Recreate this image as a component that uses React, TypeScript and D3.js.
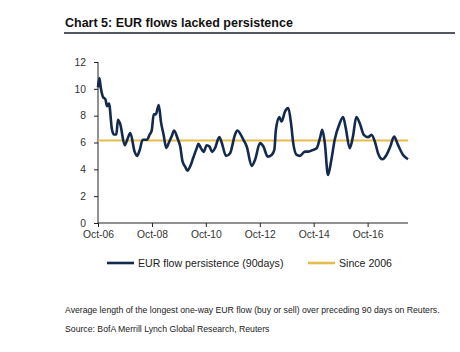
import { useEffect, useRef } from "react";
import * as d3 from "d3";

const dates = [
  "2006-10-01", "2006-10-19", "2006-11-10", "2006-12-07", "2007-01-10", "2007-02-01",
  "2007-02-27", "2007-04-07", "2007-05-01", "2007-06-07", "2007-06-28", "2007-07-28",
  "2007-09-28", "2007-11-07", "2007-12-13", "2008-02-10", "2008-03-13", "2008-04-16",
  "2008-05-28", "2008-07-25", "2008-09-01", "2008-09-28", "2008-10-25", "2008-11-22",
  "2009-01-01", "2009-02-01", "2009-03-07", "2009-04-13", "2009-05-19", "2009-06-28",
  "2009-07-28", "2009-09-13", "2009-10-19", "2009-11-19", "2009-12-25", "2010-01-25",
  "2010-03-01", "2010-04-16", "2010-06-01", "2010-06-22", "2010-07-25", "2010-09-01",
  "2010-10-13", "2010-11-19", "2010-12-25", "2011-02-04", "2011-04-01", "2011-05-04",
  "2011-07-01", "2011-08-25", "2011-11-01", "2011-12-01", "2012-02-22", "2012-04-07",
  "2012-06-13", "2012-07-28", "2012-10-04", "2012-11-19", "2013-01-16", "2013-03-10",
  "2013-04-16", "2013-05-07", "2013-06-22", "2013-07-22", "2013-09-07", "2013-10-22",
  "2013-11-28", "2013-12-28", "2014-02-13", "2014-03-28", "2014-06-04", "2014-07-19",
  "2014-09-25", "2014-11-10", "2014-12-25", "2015-01-25", "2015-03-01", "2015-04-13",
  "2015-05-28", "2015-07-13", "2015-09-19", "2015-11-04", "2015-12-10", "2016-02-01",
  "2016-03-16", "2016-05-01", "2016-06-16", "2016-08-10", "2016-10-07", "2016-11-22",
  "2017-01-07", "2017-02-19", "2017-04-19", "2017-06-13", "2017-08-04", "2017-09-25",
  "2017-11-16", "2018-01-25", "2018-04-01",
];

const persistence = [
  10.1, 10.8, 10.0, 9.4, 9.2, 8.7,
  8.9, 7.0, 6.6, 6.6, 7.7, 7.4,
  5.8, 6.3, 6.7, 5.3, 5.0, 5.4,
  6.2, 6.2, 6.6, 6.9, 8.1, 8.1,
  8.8, 7.5, 6.6, 5.6, 6.0, 6.5,
  6.9, 6.3, 5.7, 4.6, 4.2, 3.9,
  4.2, 4.9, 5.6, 5.9, 5.6, 5.3,
  5.8, 5.7, 5.3, 5.6, 6.4, 6.0,
  5.0, 5.2, 6.6, 6.9, 6.2, 5.7,
  4.25, 4.7, 5.95, 5.7, 4.95, 5.07,
  5.45, 6.94, 7.9, 7.56, 8.3, 8.56,
  7.44, 5.95, 5.07, 5.0, 5.32, 5.32,
  5.45, 5.57, 6.32, 6.94, 5.95, 3.58,
  4.7, 6.2, 7.44, 7.9, 7.07, 5.57,
  6.44, 7.9, 7.44, 6.57, 6.4, 6.57,
  6.07, 5.2, 4.75, 5.07, 5.7, 6.44,
  5.82, 5.07, 4.75,
];

const sinceAverage = 6.15;
const yTicks = [0, 2, 4, 6, 8, 10, 12];
const xTickDates = ["2006-10-01", "2008-10-01", "2010-10-01", "2012-10-01", "2014-10-01", "2016-10-01"];
const legendLabels = ["EUR flow persistence (90days)", "Since 2006"];
const title = "Chart 5: EUR flows lacked persistence";
const notes = [
  "Average length of the longest one-way EUR flow (buy or sell) over preceding 90 days on Reuters.",
  "Source: BofA Merrill Lynch Global Research, Reuters",
];

const NAVY = "#132a4e";
const GOLD = "#e5bb4c";

const App = () => {
  const ref = useRef(null);

  useEffect(() => {
    const width = 460;
    const height = 352;
    const margin = { top: 62, right: 52, bottom: 129, left: 98 };
    const font = "Liberation Sans, Arial, sans-serif";

    const svg = d3.select(ref.current);
    svg.selectAll("*").remove();

    const parse = d3.timeParse("%Y-%m-%d");
    const data = dates.map((d, i) => ({ date: parse(d), value: persistence[i] }));

    const x = d3
      .scaleTime()
      .domain([parse("2006-10-01"), parse("2018-04-01")])
      .range([margin.left, width - margin.right]);
    const y = d3
      .scaleLinear()
      .domain([0, 12])
      .range([height - margin.bottom, margin.top]);

    // title + rule
    svg
      .append("text")
      .attr("x", 65)
      .attr("y", 27)
      .attr("font-family", font)
      .attr("font-size", 12.5)
      .attr("font-weight", "bold")
      .attr("fill", "#111")
      .text(title);
    svg
      .append("line")
      .attr("x1", 64)
      .attr("x2", 455)
      .attr("y1", 33)
      .attr("y2", 33)
      .attr("stroke", "#1a1f2e")
      .attr("stroke-width", 1.5);

    // axes
    const yAxis = svg
      .append("g")
      .attr("transform", `translate(${margin.left},0)`)
      .call(d3.axisLeft(y).tickValues(yTicks).tickSize(4).tickPadding(8));
    const xAxis = svg
      .append("g")
      .attr("transform", `translate(0,${height - margin.bottom})`)
      .call(
        d3
          .axisBottom(x)
          .tickValues(xTickDates.map(parse))
          .tickFormat(d3.timeFormat("Oct-%y"))
          .tickSize(4)
          .tickPadding(4)
      );
    [yAxis, xAxis].forEach((g) => {
      g.selectAll("path").attr("stroke", "#222").attr("stroke-width", 1);
      g.selectAll("line").attr("stroke", "#222");
      g.selectAll("text")
        .attr("font-family", font)
        .attr("font-size", 10.3)
        .attr("fill", "#333");
    });
    yAxis.select(".domain").attr("d", `M0,${y(12)}V${y(0)}`);
    xAxis.select(".domain").attr("d", `M${margin.left},0H${width - margin.right}`);

    // average line
    svg
      .append("line")
      .attr("x1", x.range()[0])
      .attr("x2", x.range()[1])
      .attr("y1", y(sinceAverage))
      .attr("y2", y(sinceAverage))
      .attr("stroke", GOLD)
      .attr("stroke-width", 2);

    // series
    const line = d3
      .line()
      .x((d) => x(d.date))
      .y((d) => y(d.value))
      .curve(d3.curveMonotoneX);
    svg
      .append("path")
      .datum(data)
      .attr("d", line)
      .attr("fill", "none")
      .attr("stroke", NAVY)
      .attr("stroke-width", 2.6)
      .attr("stroke-linejoin", "round");

    // legend
    const legend = [
      { label: legendLabels[0], color: NAVY, x: 107 },
      { label: legendLabels[1], color: GOLD, x: 308 },
    ];
    const lg = svg.append("g").attr("font-family", font).attr("font-size", 10.6);
    legend.forEach((l) => {
      lg.append("line")
        .attr("x1", l.x)
        .attr("x2", l.x + 27)
        .attr("y1", 263)
        .attr("y2", 263)
        .attr("stroke", l.color)
        .attr("stroke-width", 2.6);
      lg.append("text")
        .attr("x", l.x + 31)
        .attr("y", 267)
        .attr("fill", "#222")
        .text(l.label);
    });

    // footnotes
    notes.forEach((n, i) => {
      svg
        .append("text")
        .attr("x", 65)
        .attr("y", 313 + i * 19)
        .attr("font-family", font)
        .attr("font-size", 8.7)
        .attr("fill", "#222")
        .text(n);
    });
  }, []);

  return (
    <svg
      ref={ref}
      width={460}
      height={352}
      style={{ position: "absolute", left: 0, top: 0, background: "#fff" }}
    />
  );
};

export default App;
